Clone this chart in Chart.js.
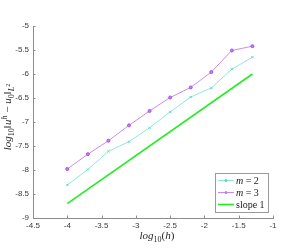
<!DOCTYPE html>
<html>
<head>
<meta charset="utf-8">
<script src="https://cdn.jsdelivr.net/npm/chart.js@4"></script>
<style>
  html, body { margin: 0; padding: 0; background: #fff; }
  #wrap { width: 293px; height: 252px; }
</style>
</head>
<body>
<div id="wrap"><canvas id="err_chart" width="293" height="252"></canvas></div>
<script>
const logH = [-4, -3.7, -3.4, -3.1, -2.8, -2.5, -2.2, -1.9, -1.6, -1.3];
const errM2 = [-8.31, -7.99, -7.61, -7.41, -7.12, -6.79, -6.48, -6.29, -5.90, -5.65];
const errM3 = [-7.98, -7.67, -7.39, -7.07, -6.77, -6.49, -6.28, -5.96, -5.51, -5.42];
const slopeX = [-4, -1.3];
const slopeY = [-8.7, -6.0];
const xTicks = [-4.5, -4, -3.5, -3, -2.5, -2, -1.5, -1];
const yTicks = [-9, -8.5, -8, -7.5, -7, -6.5, -6, -5.5, -5];

const toPoints = (xs, ys) => xs.map((x, i) => ({ x: x, y: ys[i] }));

const serif = "'Liberation Serif', 'DejaVu Serif', serif";
const tickFont = { family: "'Liberation Sans', Arial, sans-serif", size: 8 };

// draws a row of text pieces (sub/superscripts) centred on x
const drawRich = (ctx, parts, x, y) => {
  let total = 0;
  parts.forEach((p) => {
    ctx.font = p.f;
    total += ctx.measureText(p.t).width;
  });
  let cx = x - total / 2;
  ctx.textBaseline = "alphabetic";
  ctx.textAlign = "left";
  parts.forEach((p) => {
    ctx.font = p.f;
    ctx.fillText(p.t, cx, y + (p.dy || 0));
    cx += ctx.measureText(p.t).width;
  });
};

const it = (s) => "italic " + s + "px " + serif;
const rm = (s) => s + "px " + serif;

const decorPlugin = {
  id: "decor",
  afterDraw(chart) {
    const ctx = chart.ctx;
    const xs = chart.scales.x;
    const ys = chart.scales.y;
    const area = chart.chartArea;
    ctx.save();
    // inward ticks
    ctx.strokeStyle = "#8c8c8c";
    ctx.lineWidth = 1;
    ctx.beginPath();
    xTicks.forEach((v) => {
      const px = Math.round(xs.getPixelForValue(v)) + 0.5;
      ctx.moveTo(px, area.bottom);
      ctx.lineTo(px, area.bottom - 2.5);
    });
    yTicks.forEach((v) => {
      const py = Math.round(ys.getPixelForValue(v)) + 0.5;
      ctx.moveTo(area.left, py);
      ctx.lineTo(area.left + 2.5, py);
    });
    ctx.stroke();

    // axis titles
    ctx.fillStyle = "#262626";
    drawRich(ctx, [
      { t: "log", f: it(11) },
      { t: "10", f: rm(8), dy: 2.5 },
      { t: "(", f: rm(11) },
      { t: "h", f: it(11) },
      { t: ")", f: rm(11) },
    ], (area.left + area.right) / 2 + 4, 239);

    ctx.translate(11, (area.top + area.bottom) / 2 - 5);
    ctx.rotate(-Math.PI / 2);
    drawRich(ctx, [
      { t: "log", f: it(11) },
      { t: "10", f: rm(8), dy: 2.5 },
      { t: "\u2016", f: rm(11) },
      { t: "u", f: it(11) },
      { t: "h", f: it(8), dy: -4 },
      { t: " \u2212 ", f: rm(11) },
      { t: "u", f: it(11) },
      { t: "0", f: rm(8), dy: 2.5 },
      { t: "\u2016", f: rm(11) },
      { t: "L", f: it(8), dy: 2.5 },
      { t: "2", f: rm(6), dy: -1 },
    ], 0, 0);
    ctx.setTransform(1, 0, 0, 1, 0, 0);

    // legend box inside the axes
    const lx = 215, ly = 173, lw = 53, lh = 39;
    ctx.fillStyle = "#fff";
    ctx.fillRect(lx, ly, lw, lh);
    ctx.strokeStyle = "#9a9a9a";
    ctx.lineWidth = 1;
    ctx.strokeRect(lx + 0.5, ly + 0.5, lw, lh);
    const rows = [
      { ds: chart.data.datasets[0], label: [{ t: "m", f: it(10) }, { t: " = 2", f: rm(10) }] },
      { ds: chart.data.datasets[1], label: [{ t: "m", f: it(10) }, { t: " = 3", f: rm(10) }] },
      { ds: chart.data.datasets[2], label: [{ t: "slope 1", f: rm(10) }] },
    ];
    rows.forEach((r, i) => {
      const ry = ly + 7.5 + i * 12;
      ctx.strokeStyle = r.ds.borderColor;
      ctx.lineWidth = r.ds.borderWidth;
      ctx.beginPath();
      ctx.moveTo(lx + 3, ry);
      ctx.lineTo(lx + 19, ry);
      ctx.stroke();
      if (r.ds.pointRadius > 0) {
        ctx.fillStyle = r.ds.pointBackgroundColor;
        ctx.beginPath();
        ctx.arc(lx + 11, ry, 1.5, 0, Math.PI * 2);
        ctx.fill();
      }
      ctx.fillStyle = "#1a1a1a";
      let w = 0;
      r.label.forEach((p) => { ctx.font = p.f; w += ctx.measureText(p.t).width; });
      drawRich(ctx, r.label, lx + 21 + w / 2, ry + 3.5);
    });
    ctx.restore();
  },
};

new Chart(document.getElementById("err_chart").getContext("2d"), {
  type: "scatter",
  data: {
    datasets: [
      {
        label: "m = 2",
        data: toPoints(logH, errM2),
        showLine: true,
        borderColor: "#8ee8d8",
        borderWidth: 1,
        pointStyle: "crossRot",
        pointRadius: 1.5,
        pointBorderWidth: 1,
        pointBorderColor: "#5fd8c4",
        pointBackgroundColor: "#5fd8c4",
      },
      {
        label: "m = 3",
        data: toPoints(logH, errM3),
        showLine: true,
        borderColor: "#c88cf0",
        borderWidth: 1,
        pointStyle: "circle",
        pointRadius: 1.5,
        pointBorderWidth: 1,
        pointBorderColor: "#a650e4",
        pointBackgroundColor: "#c080f0",
      },
      {
        label: "slope 1",
        data: toPoints(slopeX, slopeY),
        showLine: true,
        borderColor: "#22ee22",
        borderWidth: 1.6,
        pointRadius: 0,
        pointBackgroundColor: "#22ee22",
      },
    ],
  },
  options: {
    responsive: false,
    animation: false,
    layout: { padding: { top: 26, right: 20, left: 0, bottom: 0 } },
    plugins: { legend: { display: false }, tooltip: { enabled: false } },
    scales: {
      x: {
        type: "linear",
        min: -4.5,
        max: -1,
        afterBuildTicks: (s) => { s.ticks = xTicks.map((v) => ({ value: v })); },
        afterFit: (s) => { s.height = 34; },
        grid: { display: false, drawTicks: false, tickLength: 0 },
        border: { display: true, color: "#8c8c8c", width: 1 },
        ticks: { font: tickFont, color: "#3a3a3a", padding: 3, maxRotation: 0,
          callback: (v) => String(v) },
      },
      y: {
        type: "linear",
        min: -9,
        max: -5,
        afterBuildTicks: (s) => { s.ticks = yTicks.map((v) => ({ value: v })); },
        afterFit: (s) => { s.width = 33; },
        grid: { display: false, drawTicks: false, tickLength: 0 },
        border: { display: true, color: "#8c8c8c", width: 1 },
        ticks: { font: tickFont, color: "#3a3a3a", padding: 4,
          callback: (v) => String(v) },
      },
    },
  },
  plugins: [decorPlugin],
});
</script>
</body>
</html>
